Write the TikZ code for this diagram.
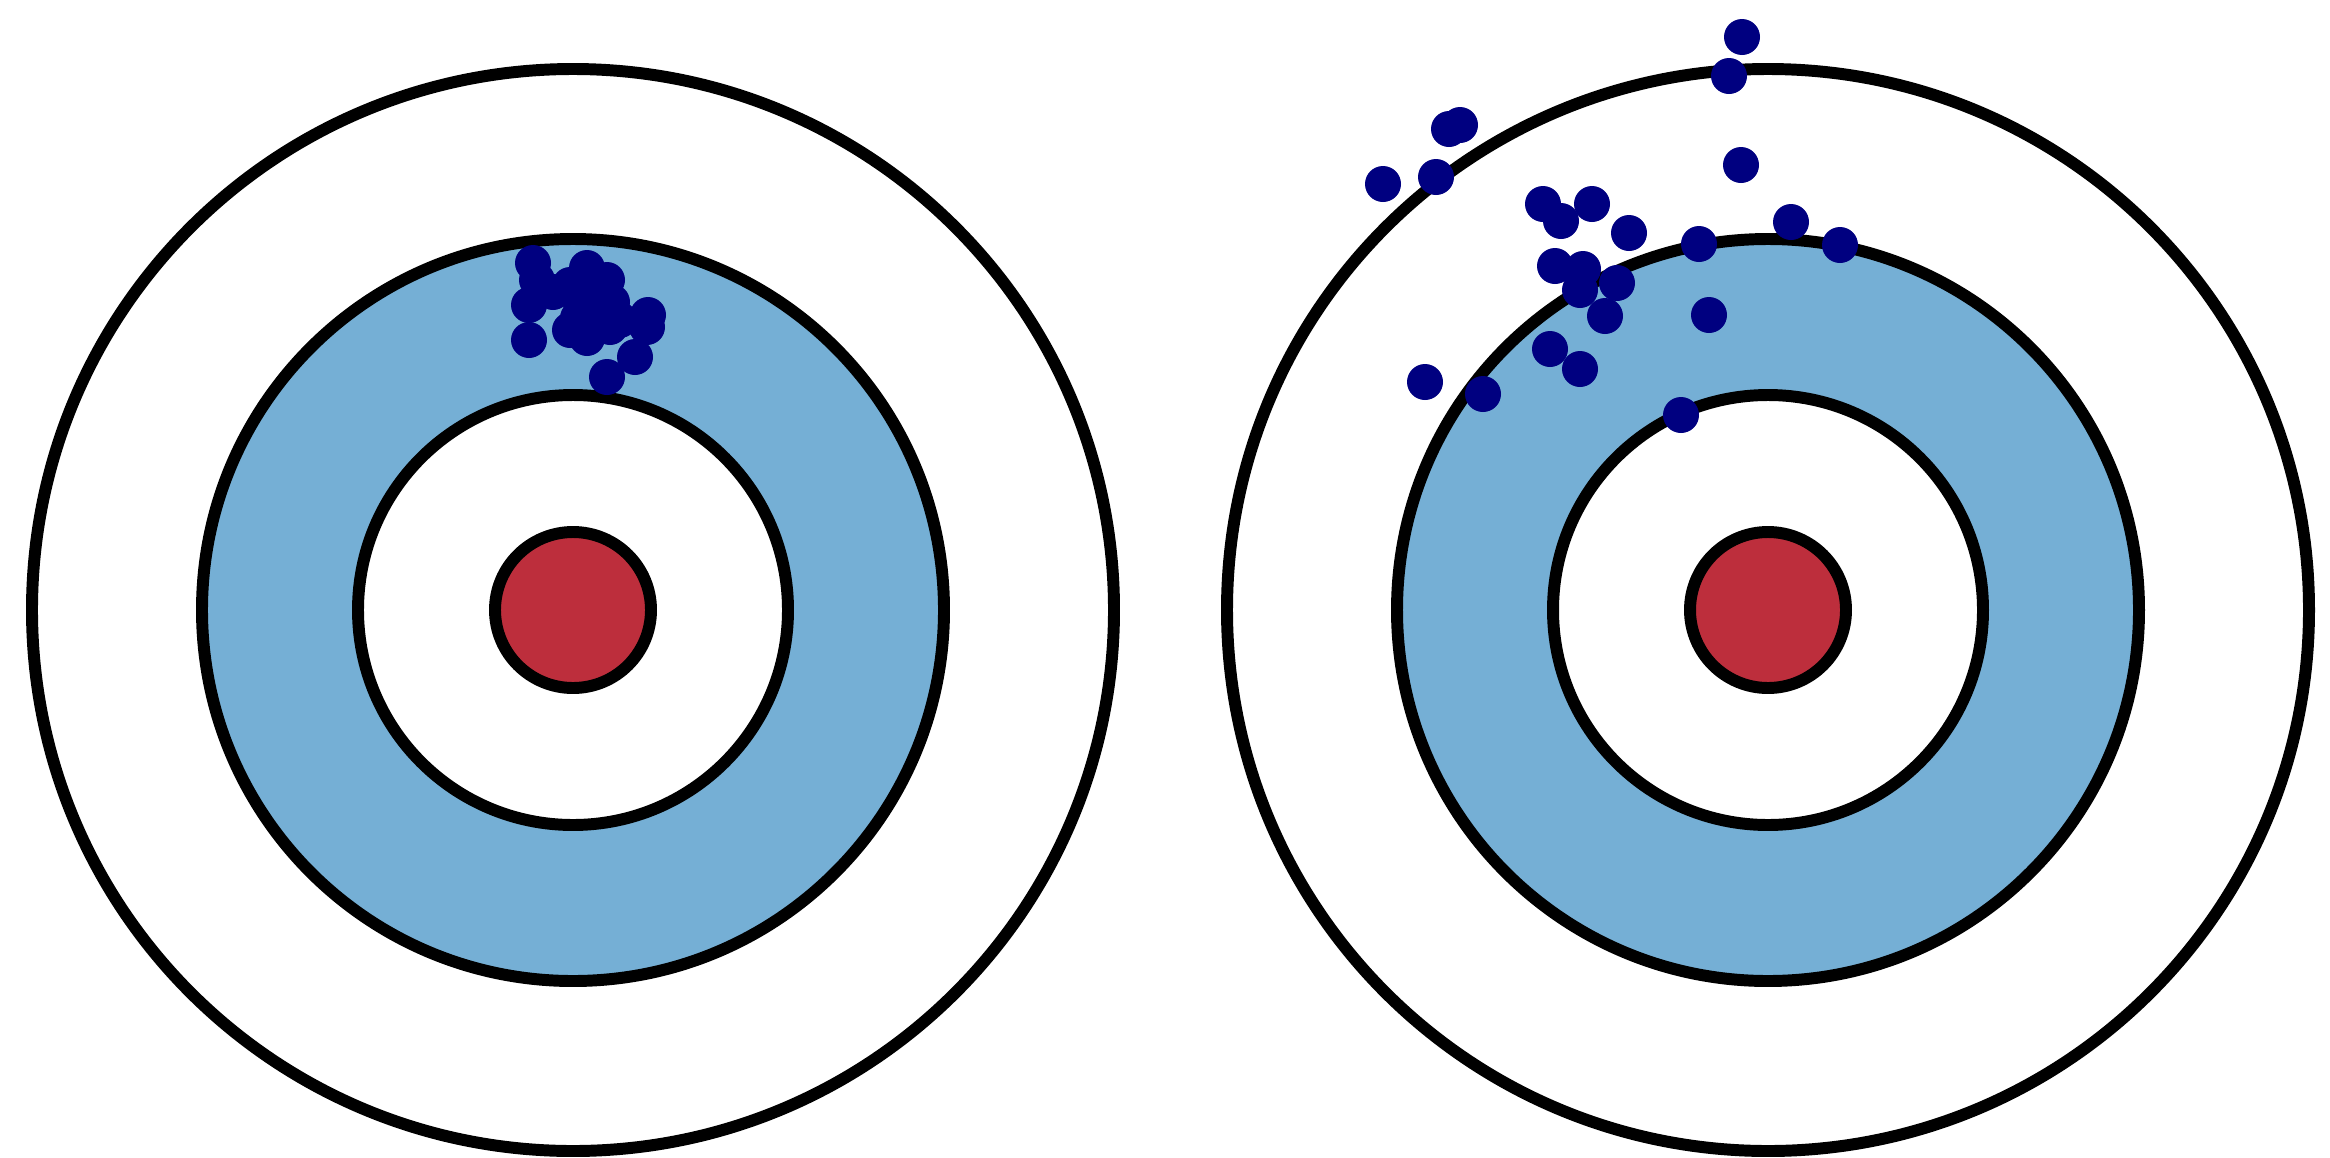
\documentclass[tikz,border=0pt]{standalone}
\usepackage{tikz}

\definecolor{ringblue}{RGB}{117,175,213}
\definecolor{bullred}{RGB}{189,46,60}
\definecolor{shotblue}{RGB}{0,0,128}

\begin{document}
\begin{tikzpicture}[x=0.01cm,y=-0.01cm]

    % パラメータの定義
    \pgfmathsetmacro{\Ra}{541}
    \pgfmathsetmacro{\Rb}{371}
    \pgfmathsetmacro{\Rc}{215}
    \pgfmathsetmacro{\Rd}{78}
    \pgfmathsetmacro{\r}{18}

    \useasboundingbox (0,0) rectangle (2330,1157);

    % 点の定義
    \coordinate (L) at (573,610);
    \coordinate (R) at (1768,610);

    % 的の描画
    \foreach \c in {L,R} {
        \draw [line width=3.4pt, fill=white] (\c) circle (\Ra);
        \draw [line width=3.4pt, fill=ringblue] (\c) circle (\Rb);
        \draw [line width=3.4pt, fill=white] (\c) circle (\Rc);
        \draw [line width=3.4pt, fill=bullred] (\c) circle (\Rd);
    }

    % 左の弾痕
    \foreach \x/\y in {533/263, 537/280, 529/305, 529/340, 587/268, 607/280,
        570/285, 580/300, 593/307, 570/330, 587/338, 610/327, 648/315,
        647/327, 635/357, 607/377, 620/320, 597/290, 612/302, 578/318,
        600/322, 553/292}
        \fill [shotblue] (\x,\y) circle (\r);

    % 右の弾痕
    \foreach \x/\y in {1742/37, 1729/76, 1449/129, 1460/125, 1383/184,
        1436/177, 1741/165, 1543/204, 1561/221, 1592/204, 1629/233,
        1699/244, 1791/222, 1840/245, 1555/266, 1583/269, 1580/290,
        1617/283, 1605/316, 1709/315, 1550/349, 1580/369, 1425/382,
        1483/394, 1681/415}
        \fill [shotblue] (\x,\y) circle (\r);

\end{tikzpicture}
\end{document}
